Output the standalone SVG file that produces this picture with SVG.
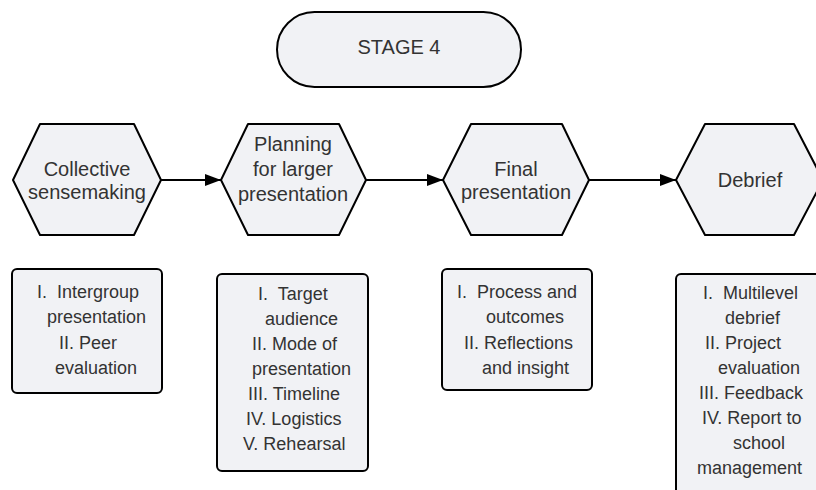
<svg xmlns="http://www.w3.org/2000/svg" width="816" height="490" viewBox="0 0 816 490">
<style>
.shape{fill:#f1f2f5;stroke:#000;stroke-width:2;stroke-linejoin:round}
.t{font-family:"Liberation Sans",Arial,sans-serif;font-size:20px;fill:#333;text-anchor:middle}
.b{font-family:"Liberation Sans",Arial,sans-serif;font-size:18px;fill:#333}
.c{stroke:#000;stroke-width:2;fill:none}
</style>
<defs>
<marker id="arr" markerUnits="userSpaceOnUse" markerWidth="17" markerHeight="12" refX="16" refY="6" orient="auto">
<path d="M0,0 L16,6 L0,12 z" fill="#000"/>
</marker>
</defs>
<rect width="816" height="490" fill="#fff"/>
<g id="stage">
<rect class="shape" x="277" y="12" width="244" height="75" rx="37.5"/>
<text class="t" x="399" y="54">STAGE 4</text>
</g>
<g id="connectors">
<line class="c" x1="161" y1="180" x2="221" y2="180" marker-end="url(#arr)"/>
<line class="c" x1="366" y1="180" x2="443" y2="180" marker-end="url(#arr)"/>
<line class="c" x1="589" y1="180" x2="676" y2="180" marker-end="url(#arr)"/>
</g>
<g id="hex1">
<polygon class="shape" points="13,180 40,124 134,124 161,180 134,235 40,235"/>
<text class="t" x="87" y="176">Collective</text>
<text class="t" x="87" y="199">sensemaking</text>
</g>
<g id="hex2">
<polygon class="shape" points="221,180 248,124 339,124 366,180 339,235 248,235"/>
<text class="t" x="293" y="151">Planning</text>
<text class="t" x="293" y="176">for larger</text>
<text class="t" x="293" y="201">presentation</text>
</g>
<g id="hex3">
<polygon class="shape" points="443,180 471,124 562,124 589,180 562,235 471,235"/>
<text class="t" x="516" y="176">Final</text>
<text class="t" x="516" y="199">presentation</text>
</g>
<g id="hex4">
<polygon class="shape" points="676,180 705,124 794,124 823,180 794,235 705,235"/>
<text class="t" x="750" y="187">Debrief</text>
</g>
<g id="box1">
<rect class="shape" x="12" y="269" width="150" height="124" rx="5"/>
<text class="b" xml:space="preserve" x="37" y="298">I.  Intergroup</text>
<text class="b" x="47" y="323">presentation</text>
<text class="b" x="59" y="349">II. Peer</text>
<text class="b" x="55" y="374">evaluation</text>
</g>
<g id="box2">
<rect class="shape" x="217" y="274" width="151" height="197" rx="5"/>
<text class="b" xml:space="preserve" x="258" y="300">I.  Target</text>
<text class="b" x="265" y="325">audience</text>
<text class="b" x="252" y="350">II. Mode of</text>
<text class="b" x="252" y="375">presentation</text>
<text class="b" x="248" y="400">III. Timeline</text>
<text class="b" x="246" y="425">IV. Logistics</text>
<text class="b" x="243" y="450">V. Rehearsal</text>
</g>
<g id="box3">
<rect class="shape" x="442" y="269" width="150" height="121" rx="5"/>
<text class="b" xml:space="preserve" x="457" y="298">I.  Process and</text>
<text class="b" x="486" y="323">outcomes</text>
<text class="b" x="464" y="349">II. Reflections</text>
<text class="b" x="482" y="374">and insight</text>
</g>
<g id="box4">
<rect class="shape" x="676" y="274" width="160" height="240" rx="5"/>
<text class="b" xml:space="preserve" x="703" y="299">I.  Multilevel</text>
<text class="b" x="725" y="324">debrief</text>
<text class="b" x="705" y="349">II. Project</text>
<text class="b" x="718" y="374">evaluation</text>
<text class="b" x="699" y="399">III. Feedback</text>
<text class="b" x="702" y="424">IV. Report to</text>
<text class="b" x="733" y="449">school</text>
<text class="b" x="697" y="474">management</text>
</g>
</svg>
